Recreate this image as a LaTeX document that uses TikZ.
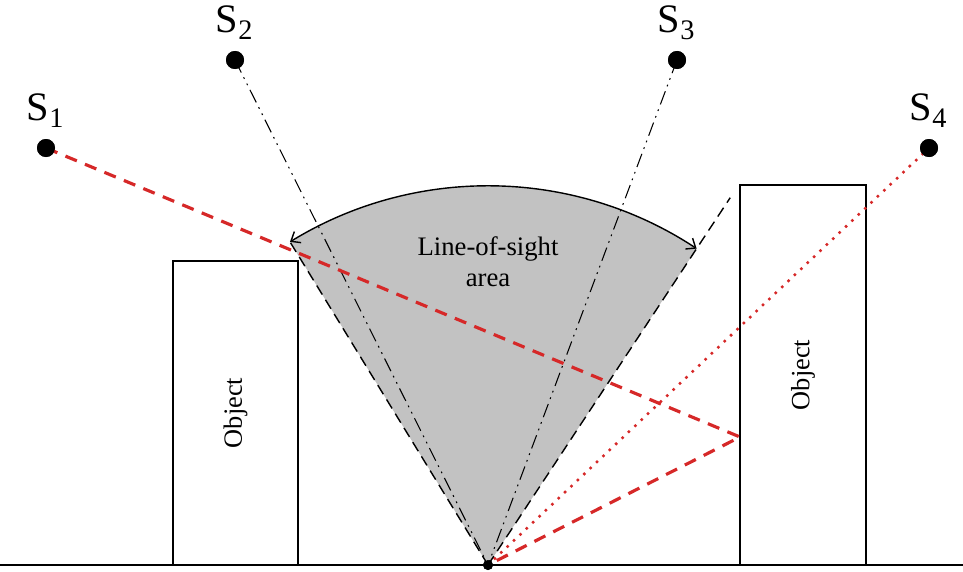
\documentclass[tikz,border=0pt]{standalone}
\usepackage{fontspec}
\setmainfont{Liberation Serif}
\usepackage{tikz}
\usetikzlibrary{arrows.meta,calc,positioning}
\definecolor{rayred}{HTML}{D62828}
\definecolor{losgray}{HTML}{C2C2C2}

\begin{document}
\begin{tikzpicture}[>={Straight Barb[length=1.6mm,width=2.6mm]},
  sat/.style={circle, fill=black, inner sep=0pt, minimum size=3.6mm},
  satlabel/.style={font=\fontsize{23}{25}\selectfont, inner sep=0pt, yshift=0.22cm},
  objbox/.style={draw, line width=0.8pt, rotate=90, font=\fontsize{15}{17}\selectfont},
  direct/.style={line width=0.6pt, dash pattern=on 8pt off 3pt on 1pt off 3pt on 1pt off 3pt},
  edge/.style={line width=0.8pt, dash pattern=on 6pt off 3.5pt},
  reflray/.style={line width=1.8pt, rayred, dash pattern=on 7pt off 5pt},
  blockray/.style={line width=2pt, rayred, dash pattern=on 0pt off 5pt, line cap=round}]

  \useasboundingbox (0,0) rectangle (19.26,11.42);

  % ================= GROUND AND RECEIVER =================
  \node[circle, fill=black, inner sep=0pt, minimum size=2mm] (rx) at (9.76,0.12) {};

  % Line-of-sight sector
  \fill[losgray] (rx.center) -- ++(121.5:7.58) arc (121.5:56.6:7.58) -- cycle;
  \coordinate (losL) at ($(rx.center)+(121.5:7.58)$);
  \coordinate (losR) at ($(rx.center)+(56.6:7.58)$);
  \coordinate (losRtop) at ($(rx.center)+(56.6:8.8)$);
  \draw[edge] (rx.center) -- (losL);
  \draw[edge] (rx.center) -- (losRtop);
  \draw[<->, line width=0.8pt] (losL) arc (121.5:56.6:7.58);
  \node[font=\fontsize{15.2}{17.5}\selectfont, align=center] (los) at (9.76,6.18) {Line-of-sight\\area};

  % Objects
  \node[objbox, minimum width=6.08cm, minimum height=2.5cm] (objL) at (4.71,3.16) {Object};
  \node[objbox, minimum width=7.6cm, minimum height=2.52cm] (objR) at (16.06,3.92) {Object};

  % ================= SATELLITES =================
  \node[sat, label={[satlabel]92:S\textsubscript{1}}] (s1) at (0.92,8.46) {};
  \node[sat, label={[satlabel]92:S\textsubscript{2}}] (s2) at (4.70,10.22) {};
  \node[sat, label={[satlabel]92:S\textsubscript{3}}] (s3) at (13.54,10.22) {};
  \node[sat, label={[satlabel]92:S\textsubscript{4}}] (s4) at (18.58,8.46) {};

  % Rays
  \coordinate (refl) at (14.8,2.68);
  \draw[direct] (s2.center) -- (rx.center);
  \draw[direct] (s3.center) -- (rx.center);
  \draw[reflray] (s1.center) -- (refl) -- (rx.center);
  \draw[blockray] (s4.center) -- (rx.center);

  % redraw the dots on top
  \foreach \s in {s1,s2,s3,s4}
    \fill (\s) circle (1.8mm);
  \fill (rx) circle (1mm);

  \draw[line width=1.6pt] (0,0.12) -- (19.26,0.12);

\end{tikzpicture}
\end{document}
